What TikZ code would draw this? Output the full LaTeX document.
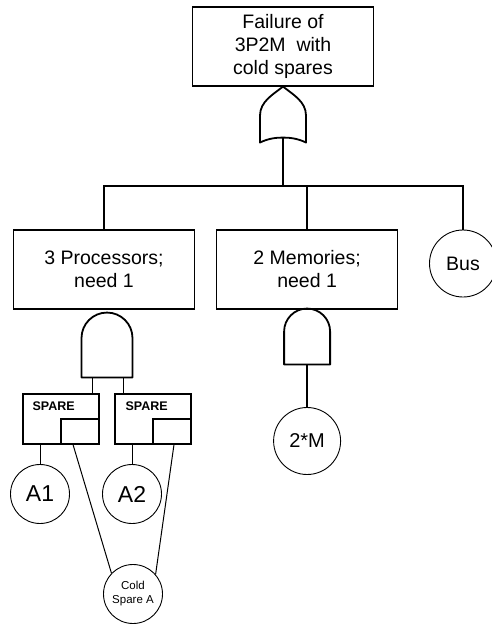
\documentclass[tikz,border=0pt]{standalone}
\usepackage{fontspec}
\setmainfont{Liberation Sans}
\usetikzlibrary{positioning}

\begin{document}
\begin{tikzpicture}[
        x=1pt, y=-1pt,
        event/.style={draw, rectangle, line width=1.1pt, minimum width=181pt, minimum height=79pt, inner sep=0pt, align=center, font=\fontsize{19.5}{23}\selectfont},
        basic/.style={draw, circle, line width=0.9pt, inner sep=0pt, minimum size=#1, align=center},
        sparebox/.style={draw, rectangle, line width=1.1pt, minimum width=76pt, minimum height=50pt, inner sep=0pt},
        slot/.style={draw, rectangle, line width=1.1pt, minimum width=38pt, minimum height=25pt, inner sep=0pt},
        sparetag/.style={font=\fontsize{12.5}{14}\selectfont\bfseries, inner sep=0pt, anchor=west},
        tree/.style={line width=1.8pt},
        link/.style={line width=1pt},
        gate/.style={line width=1.8pt, line join=round},
        pics/orgate/.style={code={
            \draw[gate] (0,0) .. controls (-10,8) and (-23,15) .. (-23,29) -- (-23,56)
                .. controls (-15,52) and (-7,51) .. (0,51) .. controls (7,51) and (15,52) .. (23,56)
                -- (23,29) .. controls (23,15) and (10,8) .. (0,0) -- cycle;
            \coordinate (-out) at (0,51);
        }},
        pics/andgate/.style 2 args={code={
            \draw[gate] (-#1,#2) -- (-#1,#1) .. controls (-#1,{0.4477*#1}) and ({-0.5523*#1},0) .. (0,0)
                .. controls ({0.5523*#1},0) and (#1,{0.4477*#1}) .. (#1,#1) -- (#1,#2) -- cycle;
            \coordinate (-bot) at (0,#2);
        }}
    ]
        \useasboundingbox (0,0) rectangle (491,624);

        % Top event
        \node[event] (top) at (283,46.5) {Failure of\\3P2M\ \ with\\cold spares};
        \pic (og) at (top.south) {orgate};
        \coordinate (rail) at (283,186);

        % Second level
        \node[event] (proc) at (104,269.5) {3 Processors;\\need 1};
        \node[event, right=21pt of proc] (mem) {2 Memories;\\need 1};
        \node[basic=67pt, font=\fontsize{19.5}{23}\selectfont] (bus) at (463,263.5) {Bus};

        \draw[tree] (og-out) -- (rail);
        \draw[tree] (proc.north) -- (proc.north |- rail) -- (bus.north |- rail) -- (bus.north);
        \draw[tree] (mem.north |- rail) -- (mem.north);

        % Memories
        \pic (mg) at ([yshift=1pt]mem.south) {andgate={23}{56}};
        \node[basic=67pt, font=\fontsize{20}{23}\selectfont] (m2) at (mem.south |- 0,441) {2*M};
        \draw[tree] (mg-bot) -- (m2.north);

        % Processors with spare gates
        \pic (pg) at ([xshift=3pt,yshift=-3pt]proc.south) {andgate={25.5}{65}};
        \node[sparebox] (sp1) at (61,419) {};
        \node[sparebox] (sp2) at (153,419) {};
        \node[slot, anchor=south east] (sp1in) at (sp1.south east) {};
        \node[slot, anchor=south east] (sp2in) at (sp2.south east) {};
        \node[sparetag] (sp1tag) at ([xshift=10pt,yshift=-13pt]sp1.north west) {SPARE};
        \node[sparetag] (sp2tag) at ([xshift=11pt,yshift=-13pt]sp2.north west) {SPARE};

        \draw[link] ([xshift=-15pt]pg-bot) -- ([xshift=-15pt]pg-bot |- sp1.north);
        \draw[link] ([xshift=16pt]pg-bot) -- ([xshift=16pt]pg-bot |- sp2.north);

        % Basic events
        \node[basic=59pt, font=\fontsize{23}{25}\selectfont] (a1) at (40,494) {A1};
        \node[basic=59pt, font=\fontsize{23}{25}\selectfont] (a2) at (132,494) {A2};
        \node[basic=59pt, font=\fontsize{11.5}{14}\selectfont] (cold) at (133,594) {Cold\\Spare A};

        \draw[link] (a1.north |- sp1.south) -- (a1.north);
        \draw[link] (a2.north |- sp2.south) -- (a2.north);
        \draw[link] ([xshift=-7pt]sp1in.south) -- (cold.136);
        \draw[link] ([xshift=2pt]sp2in.south) -- (cold.41);
    \end{tikzpicture}
\end{document}
